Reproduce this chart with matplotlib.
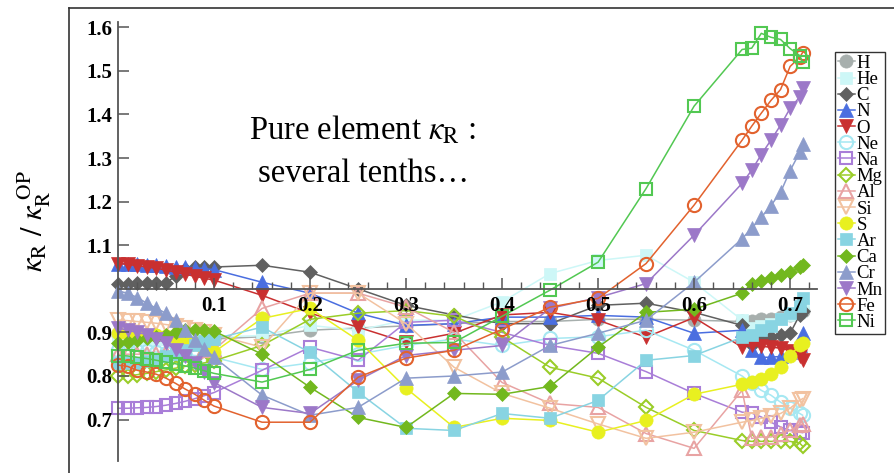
import matplotlib
matplotlib.use('Agg')
import matplotlib.pyplot as plt
from matplotlib.lines import Line2D
from matplotlib.ticker import MultipleLocator, FixedLocator

plt.rcParams['mathtext.fontset'] = 'stix'
plt.rcParams['font.family'] = ['Liberation Serif', 'DejaVu Serif']

x = [0.00, 0.01, 0.02, 0.03, 0.04, 0.05, 0.06, 0.07, 0.08, 0.09, 0.10,
     0.15, 0.20, 0.25, 0.30, 0.35, 0.40, 0.45, 0.50, 0.55, 0.60,
     0.65, 0.66, 0.67, 0.68, 0.69, 0.70, 0.71, 0.713]

elements = ['H', 'He', 'C', 'N', 'O', 'Ne', 'Na', 'Mg', 'Al', 'Si', 'S', 'Ar',
            'Ca', 'Cr', 'Mn', 'Fe', 'Ni']

H = [0.895, 0.894, 0.893, 0.892, 0.891, 0.89, 0.889, 0.888, 0.887, 0.886, 0.885,
     0.89, 0.905, 0.91, 0.915, 0.92, 0.925, 0.925, 0.93, 0.93, 0.928,
     0.925, 0.925, 0.93, 0.93, 0.935, 0.94, 0.945, 0.95]
He = [0.885, 0.885, 0.885, 0.885, 0.885, 0.885, 0.886, 0.887, 0.888, 0.889, 0.889,
      0.893, 0.916, 0.905, 0.928, 0.928, 0.97, 1.035, 1.065, 1.077, 1.015,
      0.928, 0.91, 0.915, 0.92, 0.93, 0.94, 0.95, 0.96]
C = [1.012, 1.012, 1.013, 1.013, 1.013, 1.013, 1.03, 1.045, 1.05, 1.05, 1.05,
     1.054, 1.038, 1.0, 0.962, 0.94, 0.92, 0.92, 0.962, 0.967, 0.946,
     0.916, 0.87, 0.882, 0.889, 0.895, 0.898, 0.94, 0.95]
N = [1.058, 1.057, 1.056, 1.055, 1.054, 1.053, 1.051, 1.05, 1.048, 1.046, 1.044,
     1.015, 0.99, 0.944, 0.916, 0.92, 0.935, 0.935, 0.939, 0.935, 0.898,
     0.905, 0.86, 0.843, 0.843, 0.845, 0.855, 0.87, 0.898]
O = [1.058, 1.056, 1.053, 1.05, 1.047, 1.043, 1.038, 1.033, 1.029, 1.024, 1.02,
     0.985, 0.944, 0.912, 0.877, 0.898, 0.94, 0.946, 0.928, 0.889, 0.934,
     0.866, 0.87, 0.868, 0.866, 0.864, 0.858, 0.845, 0.836]
Ne = [0.86, 0.86, 0.858, 0.857, 0.855, 0.853, 0.851, 0.849, 0.847, 0.845, 0.843,
      0.815, 0.83, 0.85, 0.87, 0.885, 0.87, 0.886, 0.89, 0.905, 0.859,
      0.80, 0.783, 0.767, 0.756, 0.74, 0.726, 0.714, 0.71]
Na = [0.726, 0.726, 0.727, 0.728, 0.73, 0.733, 0.737, 0.742, 0.748, 0.755, 0.762,
      0.813, 0.866, 0.836, 0.923, 0.928, 0.9, 0.87, 0.852, 0.81, 0.76,
      0.717, 0.715, 0.706, 0.694, 0.683, 0.675, 0.671, 0.67]
Mg = [0.80, 0.80, 0.803, 0.806, 0.81, 0.814, 0.818, 0.822, 0.826, 0.83, 0.835,
      0.87, 0.93, 0.944, 0.95, 0.937, 0.889, 0.82, 0.795, 0.728, 0.675,
      0.652, 0.65, 0.65, 0.65, 0.65, 0.65, 0.646, 0.639]
Al = [0.85, 0.85, 0.85, 0.85, 0.85, 0.852, 0.854, 0.856, 0.858, 0.86, 0.86,
      0.955, 0.99, 0.99, 0.958, 0.9, 0.785, 0.737, 0.728, 0.668, 0.634,
      0.767, 0.657, 0.66, 0.66, 0.668, 0.675, 0.687, 0.69]
Si = [0.928, 0.927, 0.925, 0.923, 0.921, 0.918, 0.915, 0.91, 0.905, 0.9, 0.895,
      0.866, 0.99, 0.99, 0.92, 0.82, 0.76, 0.726, 0.69, 0.657, 0.671,
      0.694, 0.698, 0.703, 0.708, 0.714, 0.726, 0.744, 0.748]
S = [0.898, 0.897, 0.896, 0.895, 0.894, 0.892, 0.888, 0.882, 0.875, 0.865, 0.855,
     0.932, 0.955, 0.882, 0.772, 0.682, 0.703, 0.698, 0.671, 0.698, 0.758,
     0.781, 0.786, 0.794, 0.804, 0.82, 0.847, 0.87, 0.875]
Ar = [0.83, 0.83, 0.83, 0.835, 0.84, 0.845, 0.85, 0.86, 0.87, 0.88, 0.885,
      0.912, 0.854, 0.763, 0.68, 0.675, 0.714, 0.703, 0.744, 0.836, 0.847,
      0.889, 0.895, 0.905, 0.915, 0.93, 0.945, 0.96, 0.98]
Ca = [0.875, 0.878, 0.882, 0.886, 0.89, 0.895, 0.90, 0.905, 0.905, 0.905, 0.903,
      0.85, 0.774, 0.705, 0.682, 0.76, 0.758, 0.776, 0.866, 0.946, 0.953,
      0.99, 1.012, 1.017, 1.024, 1.031, 1.038, 1.049, 1.054]
Cr = [0.995, 0.99, 0.98, 0.967, 0.955, 0.944, 0.928, 0.905, 0.882, 0.863, 0.843,
      0.756, 0.71, 0.728, 0.795, 0.80, 0.809, 0.87, 0.898, 0.928, 1.015,
      1.115, 1.139, 1.164, 1.191, 1.221, 1.271, 1.313, 1.333]
Mn = [0.91, 0.905, 0.90, 0.895, 0.885, 0.875, 0.86, 0.845, 0.83, 0.81, 0.785,
      0.728, 0.714, 0.79, 0.847, 0.859, 0.87, 0.955, 0.98, 1.012, 1.123,
      1.242, 1.272, 1.308, 1.341, 1.375, 1.414, 1.44, 1.46]
Fe = [0.825, 0.822, 0.813, 0.809, 0.804, 0.795, 0.783, 0.770, 0.758, 0.744, 0.731,
      0.694, 0.694, 0.797, 0.841, 0.859, 0.907, 0.958, 0.978, 1.058, 1.192,
      1.341, 1.373, 1.403, 1.432, 1.457, 1.51, 1.531, 1.542]
Ni = [0.847, 0.846, 0.843, 0.840, 0.836, 0.832, 0.828, 0.823, 0.818, 0.812, 0.806,
      0.786, 0.815, 0.859, 0.875, 0.877, 0.937, 0.997, 1.061, 1.230, 1.419,
      1.549, 1.552, 1.586, 1.577, 1.572, 1.551, 1.535, 1.52]

series = [H, He, C, N, O, Ne, Na, Mg, Al, Si, S, Ar, Ca, Cr, Mn, Fe, Ni]

colors = ['#A7AFAD', '#CDF7F7', '#606060', '#4A6EE0', '#C93030', '#A6E8F2',
          '#A97ED8', '#9ACD28', '#E8A3A3', '#F2C2A0', '#E8F020', '#88D4E2',
          '#72B81E', '#8C9CCB', '#9C78C8', '#E2622E', '#52C852']
markers = ['o', 's', 'D', '^', 'v', 'o', 's', 'D', '^', 'v', 'o', 's',
           'D', '^', 'v', 'o', 's']
filled = [True, True, True, True, True, False, False, False, False, False,
          True, True, True, True, True, False, False]
msizes = {'o': 9.5, 's': 8.5, 'D': 7.5, '^': 9.5, 'v': 9.5}

W, Hpx = 895, 473
fig = plt.figure(figsize=(W / 100, Hpx / 100), dpi=100)
ax = fig.add_axes([118 / W, 1 - 461 / Hpx, (817 - 118) / W, (461 - 22) / Hpx])
ax.set_xlim(0, 0.728)
ax.set_ylim(0.605, 1.612)

handles = []
for name, ys, c, m, f in zip(elements, series, colors, markers, filled):
    kw = dict(color=c, marker=m, ms=msizes[m], lw=1.1)
    if f:
        kw.update(mfc=c, mec=c, mew=0.5)
    else:
        kw.update(mfc='none', mec=c, mew=1.5)
    ax.plot(x, ys, **kw, clip_on=False, zorder=2)
    handles.append(Line2D([0], [0], label=name, **kw))

for s in ['top', 'right']:
    ax.spines[s].set_visible(False)
ax.spines['bottom'].set_position(('data', 1.0))
ax.spines['left'].set_position(('data', 0.0))
for s in ['bottom', 'left']:
    ax.spines[s].set_color('#555555')
    ax.spines[s].set_linewidth(1.3)
    ax.spines[s].set_zorder(4)
ax.xaxis.set_zorder(5)
ax.yaxis.set_zorder(5)

ax.xaxis.set_major_locator(FixedLocator([0.1, 0.2, 0.3, 0.4, 0.5, 0.6, 0.7]))
ax.xaxis.set_minor_locator(MultipleLocator(0.02))
ax.yaxis.set_major_locator(FixedLocator([0.7, 0.8, 0.9, 1.1, 1.2, 1.3, 1.4, 1.5, 1.6]))
ax.tick_params(axis='x', which='major', direction='in', length=8, width=1.1,
               color='#555555', labelsize=15, pad=5)
ax.tick_params(axis='x', which='minor', direction='in', length=5, width=1.0,
               color='#555555')
ax.tick_params(axis='y', which='major', direction='in', length=8, width=1.1,
               color='#555555', labelsize=15, pad=4)
for lab in ax.get_xticklabels() + ax.get_yticklabels():
    lab.set_fontweight('bold')

fig.text(34 / W, 1 - 221 / Hpx,
         r'$\kappa_{\mathrm{R}}\ /\ \kappa_{\mathrm{R}}^{\ \mathrm{OP}}$',
         rotation=90, ha='center', va='center', fontsize=22)

fig.text(363 / W, 1 - 130 / Hpx, r'Pure element $\kappa_{\mathrm{R}}$ :',
         ha='center', va='center', fontsize=23.5)
fig.text(364 / W, 1 - 174 / Hpx, 'several tenths\u2026',
         ha='center', va='center', fontsize=23.5)

leg = fig.legend(handles=handles, loc='upper left',
                 bbox_to_anchor=(835 / W, 1 - 52 / Hpx), bbox_transform=fig.transFigure,
                 fontsize=13.5, labelspacing=-0.05, handlelength=0.9, handletextpad=0.1,
                 borderpad=0.15, borderaxespad=0, fancybox=False, framealpha=1,
                 edgecolor='#333333')
leg.get_frame().set_linewidth(1.0)

fig.add_artist(Line2D([69 / W, 69 / W], [0, 1 - 8 / Hpx], transform=fig.transFigure,
                      color='#333333', lw=1.2))
fig.add_artist(Line2D([69 / W, 1], [1 - 8 / Hpx, 1 - 8 / Hpx], transform=fig.transFigure,
                      color='#333333', lw=1.2))

fig.savefig('out.png', dpi=100)
